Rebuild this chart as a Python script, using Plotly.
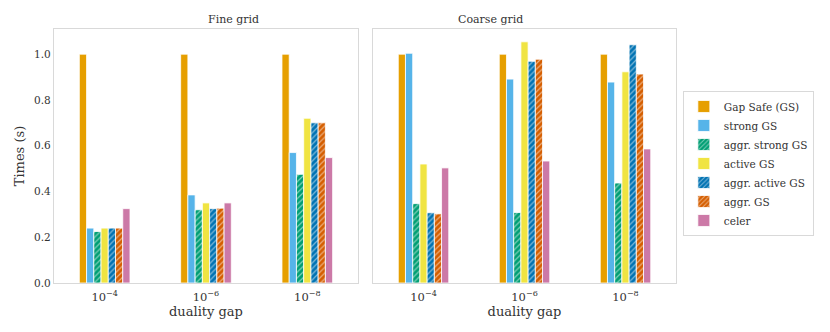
import plotly.graph_objects as go
from plotly.subplots import make_subplots

gaps = ["1e-4", "1e-6", "1e-8"]
gap_labels = ["10<sup>−4</sup>", "10<sup>−6</sup>", "10<sup>−8</sup>"]

methods = ["Gap Safe (GS)", "strong GS", "aggr. strong GS", "active GS",
           "aggr. active GS", "aggr. GS", "celer"]
colors = ["#E69F00", "#56B4E9", "#009E73", "#F0E442", "#0072B2", "#D55E00", "#CC79A7"]
hatched = [False, False, True, False, True, True, False]

fine_times = [
    [1.0, 1.0, 1.0],
    [0.24, 0.385, 0.57],
    [0.225, 0.32, 0.475],
    [0.24, 0.35, 0.72],
    [0.24, 0.325, 0.70],
    [0.24, 0.327, 0.70],
    [0.325, 0.35, 0.548],
]
coarse_times = [
    [1.0, 1.0, 1.0],
    [1.004, 0.891, 0.878],
    [0.347, 0.308, 0.437],
    [0.52, 1.054, 0.923],
    [0.307, 0.969, 1.041],
    [0.302, 0.978, 0.913],
    [0.503, 0.533, 0.586],
]

font = "DejaVu Serif"
frame = "#d9d9d9"

fig = make_subplots(rows=1, cols=2, shared_yaxes=True, horizontal_spacing=0.0242)

for col, data in [(1, fine_times), (2, coarse_times)]:
    for i, m in enumerate(methods):
        marker = dict(color=colors[i], line=dict(color="white", width=0.8))
        if hatched[i]:
            marker["pattern"] = dict(shape="/", fgcolor="white", bgcolor=colors[i],
                                     fillmode="overlay", size=4, solidity=0.3)
        fig.add_trace(go.Bar(x=gaps, y=data[i], name=m, marker=marker,
                             showlegend=(col == 1), legendgroup=m), row=1, col=col)

fig.update_xaxes(tickvals=gaps, ticktext=gap_labels, range=[-0.5, 2.5],
                 showline=True, mirror=True, linecolor=frame, linewidth=1.2,
                 showgrid=False, ticks="", title_text="duality gap",
                 title_standoff=0, ticklabelstandoff=3,
                 tickfont=dict(size=11.5, family=font))
fig.update_yaxes(range=[0, 1.11], tickvals=[0, 0.2, 0.4, 0.6, 0.8, 1.0],
                 tickformat=".1f", showline=True, mirror=True, linecolor=frame,
                 linewidth=1.2, showgrid=False, zeroline=False, ticks="",
                 tickfont=dict(size=10.5, family=font))
fig.update_yaxes(title_text="Times (s)", title_standoff=6, row=1, col=1)
fig.update_yaxes(showticklabels=False, row=1, col=2)
fig.update_xaxes(domain=[0, 0.4887], row=1, col=1)
fig.update_xaxes(domain=[0.5129, 1.0], row=1, col=2)

for x0, x1, t in [(0, 0.4887, "Fine grid"), (0.5129, 1.0, "Coarse grid")]:
    fig.add_annotation(x=(x0 + x1) / 2, y=1.0, xref="paper", yref="paper",
                       text=t, showarrow=False, yanchor="bottom", yshift=1,
                       font=dict(size=11, color="#333", family=font))

# page body has an 8px margin, so the figure is shrunk and shifted to fit
fig.update_layout(
    width=822, height=324,
    margin=dict(l=46, r=154, t=21, b=49),
    barmode="group", bargap=0.5, bargroupgap=0,
    plot_bgcolor="white", paper_bgcolor="white",
    font=dict(family=font, size=11, color="#333"),
    legend=dict(x=1.011, y=0.756, xanchor="left", yanchor="top",
                bordercolor=frame, borderwidth=1, font=dict(size=10.5, family=font),
                tracegroupgap=0, itemwidth=30),
)

fig.write_html("out.html")
